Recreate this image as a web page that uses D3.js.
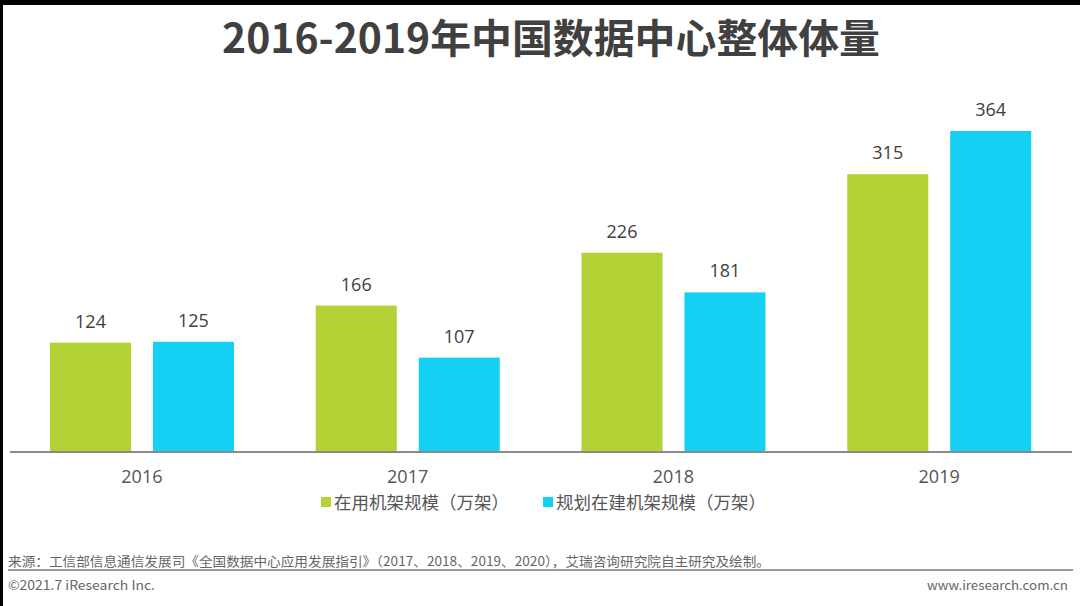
<!DOCTYPE html>
<html><head><meta charset="utf-8">
<script src="https://cdn.jsdelivr.net/npm/d3@7"></script>
<style>html,body{margin:0;padding:0;background:#fff;}svg{display:block;}</style>
</head><body>
<script>
const years = ["2016", "2017", "2018", "2019"];
const seriesNames = ["在用机架规模（万架）", "规划在建机架规模（万架）"];
const inUse = [124, 166, 226, 315];
const planned = [125, 107, 181, 364];
const colors = ["#b3d236", "#14d0f2"];
const title = "2016-2019年中国数据中心整体体量";
const source = "来源：工信部信息通信发展司《全国数据中心应用发展指引》（2017、2018、2019、2020），艾瑞咨询研究院自主研究及绘制。";
const copyright = "©2021.7 iResearch Inc.";
const site = "www.iresearch.com.cn";

const W = 1080, H = 606;
const svg = d3.select("body").append("svg").attr("width", W).attr("height", H);
svg.append("rect").attr("width", W).attr("height", H).attr("fill", "#fff");
svg.append("rect").attr("x", 0).attr("y", 0).attr("width", W).attr("height", 5).attr("fill", "#000");
svg.append("rect").attr("x", 0).attr("y", 0).attr("width", 3).attr("height", H).attr("fill", "#000");

const font = "'Noto Sans CJK SC', 'Noto Sans', sans-serif";
svg.append("text").attr("x", 551).attr("y", 53).attr("text-anchor", "middle")
  .attr("font-family", font).attr("font-weight", 700).attr("font-size", 40)
  .attr("fill", "#404040").attr("textLength", 658).attr("lengthAdjust", "spacingAndGlyphs").text(title);

const baseY = 452;
const x0 = d3.scaleBand().domain(years).range([9, 1072]).paddingInner(0).paddingOuter(0);
const x1 = d3.scaleBand().domain([0, 1]).range([41, 225]).paddingInner(0.213).paddingOuter(0);
const y = d3.scaleLinear().domain([0, 364]).range([baseY, 131]);

const data = years.map((yr, i) => ({year: yr, vals: [inUse[i], planned[i]]}));
const g = svg.append("g").selectAll("g").data(data).join("g")
  .attr("transform", d => `translate(${x0(d.year)},0)`);
g.selectAll("rect").data(d => d.vals.map((v, k) => ({v, k}))).join("rect")
  .attr("x", d => x1(d.k)).attr("width", x1.bandwidth())
  .attr("y", d => y(d.v)).attr("height", d => baseY - y(d.v))
  .attr("fill", d => colors[d.k]);
g.selectAll("text.val").data(d => d.vals.map((v, k) => ({v, k}))).join("text")
  .attr("class", "val")
  .attr("x", d => x1(d.k) + x1.bandwidth() / 2).attr("y", d => y(d.v) - 15)
  .attr("text-anchor", "middle").attr("font-family", "'Open Sans', 'Noto Sans', sans-serif")
  .attr("font-size", 18).attr("fill", "#404040").text(d => d.v);

const axis = d3.axisBottom(x0).tickSize(0).tickPadding(18);
const ag = svg.append("g").attr("transform", `translate(0,${baseY})`).call(axis);
ag.select(".domain").attr("stroke", "#8a8a8a").attr("stroke-width", 2).attr("d", "M10,0H1072");
ag.selectAll(".tick text").attr("font-family", "'Open Sans', 'Noto Sans', sans-serif")
  .attr("font-size", 18).attr("fill", "#555");

const legX = [321, 543];
seriesNames.forEach((n, k) => {
  svg.append("rect").attr("x", legX[k]).attr("y", 497).attr("width", 10).attr("height", 10).attr("fill", colors[k]);
  svg.append("text").attr("x", legX[k] + 13).attr("y", 509)
    .attr("font-family", font).attr("font-size", 17.5).attr("fill", "#555").text(n);
});

svg.append("text").attr("x", 8).attr("y", 566).attr("font-family", font).attr("font-size", 13)
  .attr("fill", "#666").attr("textLength", 762).attr("lengthAdjust", "spacingAndGlyphs").text(source);
svg.append("line").attr("x1", 8).attr("x2", 1073).attr("y1", 570).attr("y2", 570)
  .attr("stroke", "#9a9a9a").attr("stroke-width", 2);
svg.append("text").attr("x", 8).attr("y", 590).attr("font-family", font).attr("font-size", 13)
  .attr("fill", "#666").attr("textLength", 147).attr("lengthAdjust", "spacingAndGlyphs").text(copyright);
svg.append("text").attr("x", 1068).attr("y", 590).attr("text-anchor", "end").attr("font-family", font).attr("font-size", 13)
  .attr("fill", "#666").attr("textLength", 141).attr("lengthAdjust", "spacingAndGlyphs").text(site);
</script>
</body></html>
